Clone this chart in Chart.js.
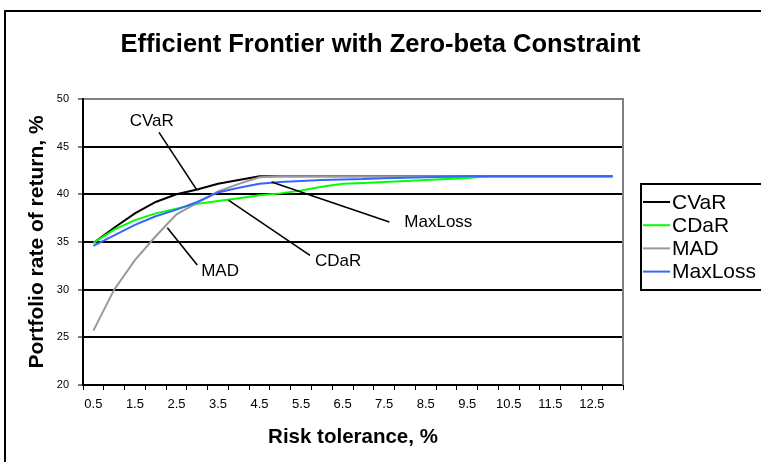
<!DOCTYPE html>
<html>
<head>
<meta charset="utf-8">
<script src="https://cdn.jsdelivr.net/npm/chart.js@4.4.1/dist/chart.umd.min.js"></script>
<style>
html,body{margin:0;padding:0;background:#fff;overflow:hidden;}
#wrap{position:absolute;left:0;top:0;width:761px;height:462px;}
</style>
</head>
<body>
<div id="wrap"><canvas id="c" width="761" height="462"></canvas></div>
<script>
const FONT = "'Liberation Sans', Arial, Helvetica, sans-serif";

const categories = ['0.5','1.0','1.5','2.0','2.5','3.0','3.5','4.0','4.5','5.0','5.5','6.0','6.5',
                    '7.0','7.5','8.0','8.5','9.0','9.5','10.0','10.5','11.0','11.5','12.0','12.5','13.0'];
const yTicks = [20, 25, 30, 35, 40, 45, 50];

const cvar    = [34.9, 36.5, 38.0, 39.2, 40.0, 40.5, 41.1, 41.5, 41.9, 41.9, 41.9, 41.9, 41.9,
                 41.9, 41.9, 41.9, 41.9, 41.9, 41.9, 41.9, 41.9, 41.9, 41.9, 41.9, 41.9, 41.9];
const cdar    = [34.9, 36.3, 37.3, 38.0, 38.5, 39.0, 39.3, 39.6, 39.9, 40.1, 40.4, 40.8, 41.1,
                 41.2, 41.3, 41.4, 41.5, 41.6, 41.7, 41.9, null, null, null, null, null, null];
const mad     = [25.7, 30.0, 33.1, 35.6, 37.9, 39.1, 40.3, 41.1, 41.8, 41.9, 41.9, 41.9, 41.9,
                 41.9, 41.9, 41.9, 41.9, 41.9, 41.9, 41.9, 41.9, 41.9, 41.9, 41.9, 41.9, 41.9];
const maxLoss = [34.6, 35.7, 36.8, 37.7, 38.4, 39.2, 40.2, 40.7, 41.1, 41.3, 41.4, 41.5, 41.55,
                 41.6, 41.7, 41.75, 41.8, 41.85, 41.9, 41.9, 41.9, 41.9, 41.9, 41.9, 41.9, 41.9];

const seriesNames = ['CVaR', 'CDaR', 'MAD', 'MaxLoss'];
const seriesColors = ['#000000', '#00FF00', '#999999', '#3366FF'];

// callout labels: text position and leader line, in (category index, value) space
const callouts = [
  {text: 'CVaR',    tx: 2.81,  ty: 47.7, x1: 3.16, y1: 46.5, x2: 4.97,  y2: 40.5},
  {text: 'CDaR',    tx: 11.78, ty: 33.0, x1: 6.50, y1: 39.4, x2: 10.43, y2: 33.6},
  {text: 'MAD',     tx: 6.10,  ty: 31.9, x1: 3.56, y1: 36.5, x2: 5.00,  y2: 32.6},
  {text: 'MaxLoss', tx: 16.61, ty: 37.1, x1: 8.58, y1: 41.3, x2: 14.25, y2: 37.1}
];

const framePlugin = {
  id: 'frame',
  beforeDraw(chart) {
    const ctx = chart.ctx;
    ctx.save();
    ctx.fillStyle = '#fff';
    ctx.fillRect(0, 0, chart.width, chart.height);
    ctx.strokeStyle = '#000';
    ctx.lineWidth = 2;
    ctx.strokeRect(5, 11, chart.width + 20, chart.height + 20);
    ctx.restore();
  },
  afterDatasetsDraw(chart) {
    const ctx = chart.ctx;
    const xs = chart.scales.x, ys = chart.scales.y;
    const a = chart.chartArea;
    ctx.save();
    ctx.strokeStyle = '#808080';
    ctx.lineWidth = 2;
    ctx.beginPath();
    ctx.moveTo(a.right, a.top - 1);
    ctx.lineTo(a.right, a.bottom);
    ctx.stroke();
    ctx.strokeStyle = '#000';
    ctx.lineWidth = 1.6;
    ctx.fillStyle = '#000';
    ctx.font = '17px ' + FONT;
    ctx.textAlign = 'center';
    ctx.textBaseline = 'middle';
    callouts.forEach(c => {
      ctx.beginPath();
      ctx.moveTo(xs.getPixelForValue(c.x1), ys.getPixelForValue(c.y1));
      ctx.lineTo(xs.getPixelForValue(c.x2), ys.getPixelForValue(c.y2));
      ctx.stroke();
      ctx.fillText(c.text, xs.getPixelForValue(c.tx), ys.getPixelForValue(c.ty));
    });
    ctx.restore();
  },
  afterDraw(chart) {
    const ctx = chart.ctx;
    const a = chart.chartArea;
    const left = a.right + 18, top = 184, bottom = 290;
    ctx.save();
    ctx.strokeStyle = '#000';
    ctx.lineWidth = 2;
    ctx.strokeRect(left, top, chart.width - left + 20, bottom - top);
    ctx.font = '21px ' + FONT;
    ctx.textBaseline = 'middle';
    ctx.textAlign = 'left';
    chart.data.datasets.forEach((ds, i) => {
      const y = 202 + i * 23.2;
      ctx.strokeStyle = ds.borderColor;
      ctx.lineWidth = 2;
      ctx.beginPath();
      ctx.moveTo(left + 2, y);
      ctx.lineTo(left + 29, y);
      ctx.stroke();
      ctx.fillStyle = '#000';
      ctx.fillText(ds.label, left + 31, y + 1);
    });
    ctx.restore();
  }
};

const chart = new Chart(document.getElementById('c'), {
  type: 'line',
  data: {
    labels: categories,
    datasets: [
      {label: seriesNames[0], data: cvar,    borderColor: seriesColors[0], order: 3},
      {label: seriesNames[1], data: cdar,    borderColor: seriesColors[1], order: 2},
      {label: seriesNames[2], data: mad,     borderColor: seriesColors[2], order: 1},
      {label: seriesNames[3], data: maxLoss, borderColor: seriesColors[3], order: 0}
    ]
  },
  options: {
    responsive: false,
    animation: false,
    devicePixelRatio: 1,
    layout: {padding: 0},
    elements: {
      point: {radius: 0, hoverRadius: 0},
      line: {borderWidth: 2, tension: 0, fill: false}
    },
    plugins: {
      legend: {display: false},
      tooltip: {enabled: false},
      title: {
        display: true,
        text: 'Efficient Frontier with Zero-beta Constraint',
        color: '#000',
        font: {family: FONT, size: 25.5, weight: 'bold'},
        padding: {top: 30, bottom: 38.4}
      }
    },
    scales: {
      x: {
        type: 'category',
        offset: true,
        grid: {offset: true, drawOnChartArea: false, color: '#000', tickLength: 5, lineWidth: 1},
        border: {color: '#000', width: 2},
        ticks: {
          autoSkip: false, maxRotation: 0, minRotation: 0, padding: 7,
          color: '#000', font: {family: FONT, size: 13},
          callback: (v, i) => (i % 2 === 0 ? categories[i] : '')
        },
        title: {
          display: true, text: 'Risk tolerance, %', color: '#000',
          font: {family: FONT, size: 20.5, weight: 'bold'},
          padding: {top: 0, bottom: 12.7}
        },
        afterFit(s) { s.height = 77; }
      },
      y: {
        min: 20, max: 50,
        afterBuildTicks(s) { s.ticks = yTicks.map(v => ({value: v})); },
        grid: {
          color: ctx => (ctx.tick && ctx.tick.value === 50 ? '#808080' : '#000'),
          lineWidth: 2, tickLength: 5, tickColor: '#000', tickWidth: 1
        },
        border: {color: '#000', width: 2},
        ticks: {color: '#000', padding: 9, font: {family: FONT, size: 11}},
        title: {
          display: true, text: 'Portfolio rate of return, %', color: '#000',
          font: {family: FONT, size: 21, weight: 'bold'},
          padding: {top: 24.4, bottom: 0}
        },
        afterFit(s) { s.width = 83; }
      },
      yRight: {
        position: 'right',
        min: 0, max: 1,
        grid: {display: false},
        border: {display: false},
        ticks: {display: false},
        afterFit(s) { s.width = 138; }
      }
    }
  },
  plugins: [framePlugin]
});
</script>
</body>
</html>
